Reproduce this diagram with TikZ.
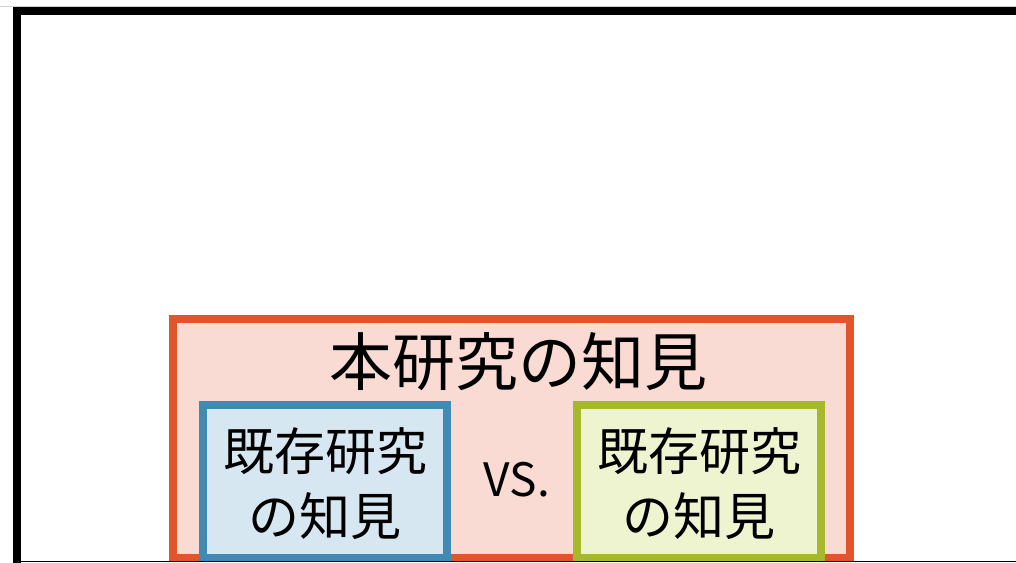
\documentclass[tikz,border=0pt]{standalone}
\usepackage{fontspec}
\setmainfont{Noto Sans CJK JP}
\definecolor{frameblack}{HTML}{000000}
\definecolor{orangeline}{HTML}{E0562A}
\definecolor{orangefill}{HTML}{F9DBD3}
\definecolor{blueline}{HTML}{418AB4}
\definecolor{bluefill}{HTML}{D6E7F1}
\definecolor{greenline}{HTML}{A6B82C}
\definecolor{greenfill}{HTML}{EFF4D0}
\tikzset{
  outerbox/.style={draw=orangeline, fill=orangefill, line width=8pt, rectangle, inner sep=0pt, outer sep=0pt},
  knowbox/.style={rectangle, line width=8pt, inner sep=0pt, outer sep=0pt, minimum width=244pt, minimum height=153pt},
  boxtext/.style={align=center, inner sep=0pt, font=\fontsize{51}{65}\selectfont},
}
\begin{document}
\begin{tikzpicture}[x=1pt,y=-1pt]
\useasboundingbox (0,0) rectangle (1016,562);
% faint top line
\draw[black!18, line width=1pt] (0,6) -- (1016,6);
% black frame
\coordinate (fb) at (17,570);
\coordinate (fc) at (17,11);
\coordinate (fr) at (1030,11);
\draw[frameblack, line width=8pt, line join=miter] (fb) -- (fc) -- (fr);
% outer orange box
\node[outerbox, minimum width=677pt, minimum height=239pt] (main) at (511.5,438.5) {};
\node[inner sep=0pt, font=\fontsize{63}{70}\selectfont] (title) at (518,362) {本研究の知見};
% inner boxes
\node[knowbox, draw=blueline, fill=bluefill] (left) at (325,481.5) {};
\node[boxtext] (lefttext) at (325,484) {既存研究\\の知見};
\node[knowbox, draw=greenline, fill=greenfill] (right) at (699,481.5) {};
\node[boxtext] (righttext) at (699,484) {既存研究\\の知見};
\node[inner sep=0pt, font=\fontsize{46}{50}\selectfont] (vs) at (517,480) {VS.};
% bottom thin line
\coordinate (bl) at (13,561.5);
\coordinate (br) at (1016,561.5);
\draw[black, line width=1pt] (bl) -- (br);
\end{tikzpicture}
\end{document}
